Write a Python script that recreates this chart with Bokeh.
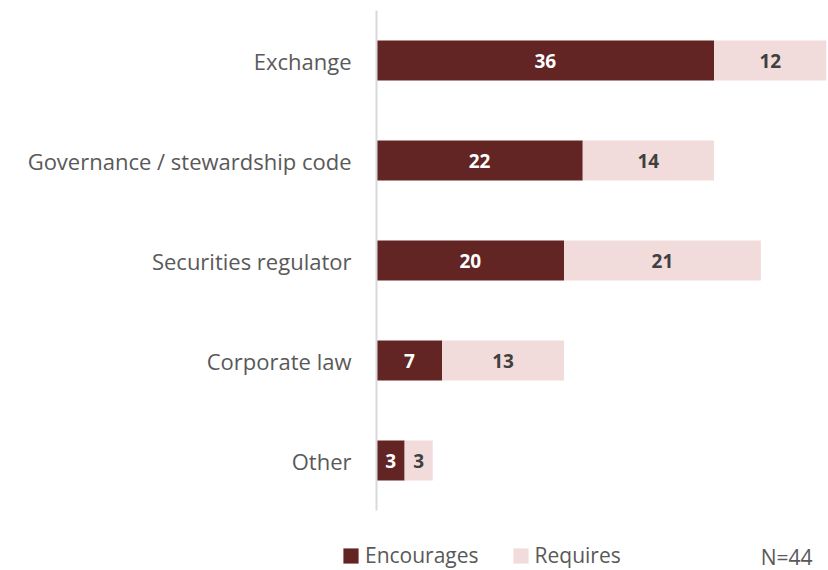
from bokeh.plotting import figure
from bokeh.layouts import column
from bokeh.models import ColumnDataSource, Legend, LegendItem, Label, FactorRange, LabelSet
from bokeh.core.properties import value
from bokeh.embed import file_html
from bokeh.resources import INLINE

categories = ["Exchange", "Governance / stewardship code", "Securities regulator", "Corporate law", "Other"]
encourages = [36, 22, 20, 7, 3]
requires = [12, 14, 21, 13, 3]
series = ["Encourages", "Requires"]
note = "N=44"

FONT = "Open Sans"
DARK = "#632523"
LIGHT = "#F2DCDB"
GREY = "#595959"

totals = [e + r for e, r in zip(encourages, requires)]
src = ColumnDataSource(dict(
    cat=categories,
    enc=encourages,
    total=totals,
    enc_mid=[e / 2 for e in encourages],
    req_mid=[e + r / 2 for e, r in zip(encourages, requires)],
    enc_lbl=[str(e) for e in encourages],
    req_lbl=[str(r) for r in requires],
))

p = figure(width=828, height=520, y_range=FactorRange(*reversed(categories)), x_range=(0, 48),
           output_backend="svg", toolbar_location=None,
           min_border_top=10, min_border_bottom=10, min_border_left=376, min_border_right=2)
p.frame_align = False

p.hbar(y="cat", left=0, right="enc", height=0.4, fill_color=DARK, line_color=None, source=src)
p.hbar(y="cat", left="enc", right="total", height=0.4, fill_color=LIGHT, line_color=None, source=src)

p.add_layout(LabelSet(x="enc_mid", y="cat", text="enc_lbl", source=src, text_align="center",
                      text_baseline="middle", text_color="white", text_font_style="bold",
                      text_font_size="19px", text_font=value(FONT)))
p.add_layout(LabelSet(x="req_mid", y="cat", text="req_lbl", source=src, text_align="center",
                      text_baseline="middle", text_color="#404040", text_font_style="bold",
                      text_font_size="19px", text_font=value(FONT)))

p.xaxis.visible = False
p.xgrid.visible = False
p.ygrid.visible = False
p.outline_line_color = None
yax = p.yaxis[0]
yax.axis_line_color = "#D9D9D9"
yax.axis_line_width = 2
yax.major_tick_line_color = None
yax.minor_tick_line_color = None
yax.major_label_text_font = FONT
yax.major_label_text_font_size = "22px"
yax.major_label_text_color = GREY
yax.major_label_standoff = 19

# legend strip below the chart (swatch glyphs sit outside the visible range)
q = figure(width=828, height=50, x_range=(0, 828), y_range=(0, 50), output_backend="svg",
           toolbar_location=None, min_border=0)
q.frame_align = False
q.axis.visible = False
q.grid.visible = False
q.outline_line_color = None
l1 = q.hbar(y=[-100], left=[0], right=[1], height=1, fill_color=DARK, line_color=None)
l2 = q.hbar(y=[-100], left=[0], right=[1], height=1, fill_color=LIGHT, line_color=None)
legend = Legend(items=[LegendItem(label=series[0], renderers=[l1]),
                       LegendItem(label=series[1], renderers=[l2])],
                orientation="horizontal", location=(341, 1), padding=0, margin=0,
                spacing=32, glyph_width=19, glyph_height=19, label_standoff=5,
                border_line_color=None, background_fill_alpha=0,
                label_text_font=FONT, label_text_font_size="21px", label_text_color=GREY)
q.add_layout(legend, "center")
q.add_layout(Label(x=812, y=14, x_units="screen", y_units="screen", text=note, text_align="right",
                   text_baseline="middle", text_font=FONT, text_font_size="21px", text_color=GREY))

layout = column(p, q, spacing=0)
open("out.html", "w").write(file_html(layout, INLINE))
